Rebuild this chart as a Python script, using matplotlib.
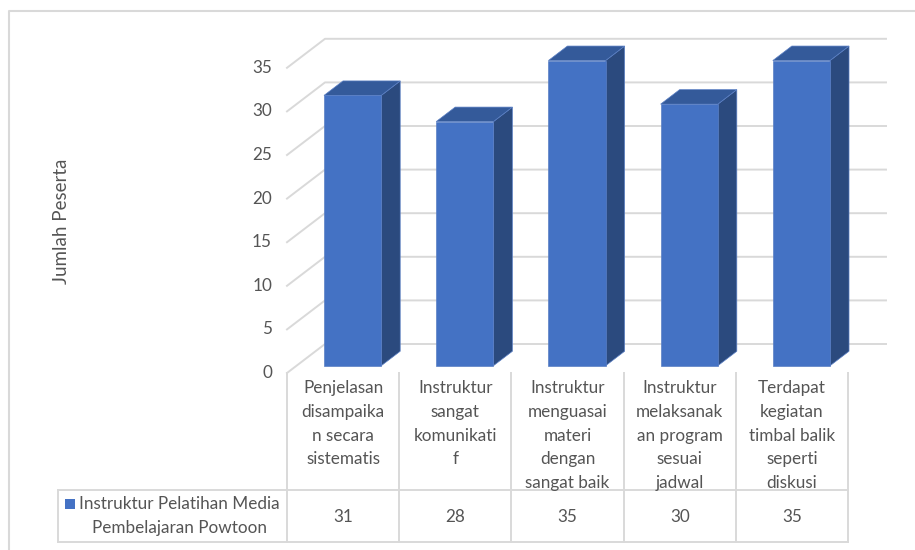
import matplotlib.pyplot as plt
import matplotlib.transforms as mtransforms
from matplotlib.patches import Polygon, Rectangle
from matplotlib.lines import Line2D

# Data
categories = [
    "Penjelasan\ndisampaika\nn secara\nsistematis",
    "Instruktur\nsangat\nkomunikati\nf",
    "Instruktur\nmenguasai\nmateri\ndengan\nsangat baik",
    "Instruktur\nmelaksanak\nan program\nsesuai\njadwal",
    "Terdapat\nkegiatan\ntimbal balik\nseperti\ndiskusi",
]
values = [31, 28, 35, 30, 35]
series_name = "Instruktur Pelatihan Media\nPembelajaran Powtoon"
yticks = [0, 5, 10, 15, 20, 25, 30, 35]
y_label = "Jumlah Peserta"

plt.rcParams['font.family'] = ['Lato', 'DejaVu Sans']
TXT = '#555555'
GRID = '#d9d9d9'
FRONT, SIDE, TOP = '#4472c4', '#2b4a7e', '#345a9a'
FS = 12.3
LS = 1.6

W, H = 915, 550
fig = plt.figure(figsize=(W / 100, H / 100), dpi=100)
ident = mtransforms.IdentityTransform()

# front plane of the plot area (pixels, top-down)
x0, x1 = 287, 848
yb, yt = 373, 67.8
ax = fig.add_axes([x0 / W, 1 - yb / H, (x1 - x0) / W, (yb - yt) / H])
ax.set_xlim(-0.5, len(values) - 0.5)
ax.set_ylim(0, 35)
ax.axis('off')

DX, DY = 38, 29  # depth of the 3D box in pixels


def P(x, v, d=0.0):
    px, py = ax.transData.transform((x, v))
    return (px + d * DX, py + d * DY)


def px(x, y):
    # pixel position measured from top-left
    return (x, H - y)


def line(pts, color=GRID, lw=1.4, z=1):
    xs, ys = zip(*pts)
    fig.add_artist(Line2D(xs, ys, transform=ident, color=color, lw=lw, zorder=z))


# outer chart border (only top and left visible)
line([px(9, 560), px(9, 11), px(930, 11)], lw=1.5)

# back wall gridlines and side-wall diagonals
n = len(values)
for v in yticks:
    line([P(-0.5, v, 0), P(-0.5, v, 1), P(n - 0.5, v, 1)])
    ax.text(-0.5, v, str(v), ha='right', va='center', color=TXT, fontsize=FS,
            transform=mtransforms.offset_copy(ax.transData, fig, x=-15, y=0, units='dots'))

# bars
bw = 0.51
for i, v in enumerate(values):
    xl, xr = i - bw / 2, i + bw / 2
    front = [P(xl, 0, .25), P(xr, 0, .25), P(xr, v, .25), P(xl, v, .25)]
    side = [P(xr, 0, .25), P(xr, 0, .75), P(xr, v, .75), P(xr, v, .25)]
    top = [P(xl, v, .25), P(xr, v, .25), P(xr, v, .75), P(xl, v, .75)]
    for pts, c in ((side, SIDE), (top, TOP), (front, FRONT)):
        fig.add_artist(Polygon(pts, closed=True, transform=ident, facecolor=c,
                               edgecolor='#5a7fc4', lw=0.5, zorder=3))

# y axis title
fig.text(62 / W, 1 - 221 / H, y_label, rotation=90, ha='center', va='center',
         color=TXT, fontsize=13.5)

# data table
row_top, row_mid, row_bot = 373, 490, 542
legend_left = 58
edges = [P(i - 0.5, 0)[0] for i in range(n + 1)]
for xe in edges:
    line([(xe, H - row_top), (xe, H - row_bot)])
line([(legend_left, H - row_mid), (edges[-1], H - row_mid)])
line([(legend_left, H - row_bot), (edges[-1], H - row_bot)])
line([(legend_left, H - row_mid), (legend_left, H - row_bot)])

for i, (cat, v) in enumerate(zip(categories, values)):
    cx = P(i, 0)[0]
    fig.text(cx / W, 1 - 380 / H, cat, ha='center', va='top', color=TXT,
             fontsize=FS, linespacing=LS, multialignment='center')
    fig.text(cx / W, 1 - 517 / H, str(v), ha='center', va='center', color=TXT,
             fontsize=FS)

fig.add_artist(Rectangle(px(65, 509), 10, 10, transform=ident, facecolor=FRONT,
                         edgecolor='none', zorder=3))
fig.text(179 / W, 1 - 516 / H, series_name, ha='center', va='center', color=TXT,
         fontsize=FS, linespacing=LS, multialignment='center')

fig.savefig('out.png', dpi=100, facecolor='white')
